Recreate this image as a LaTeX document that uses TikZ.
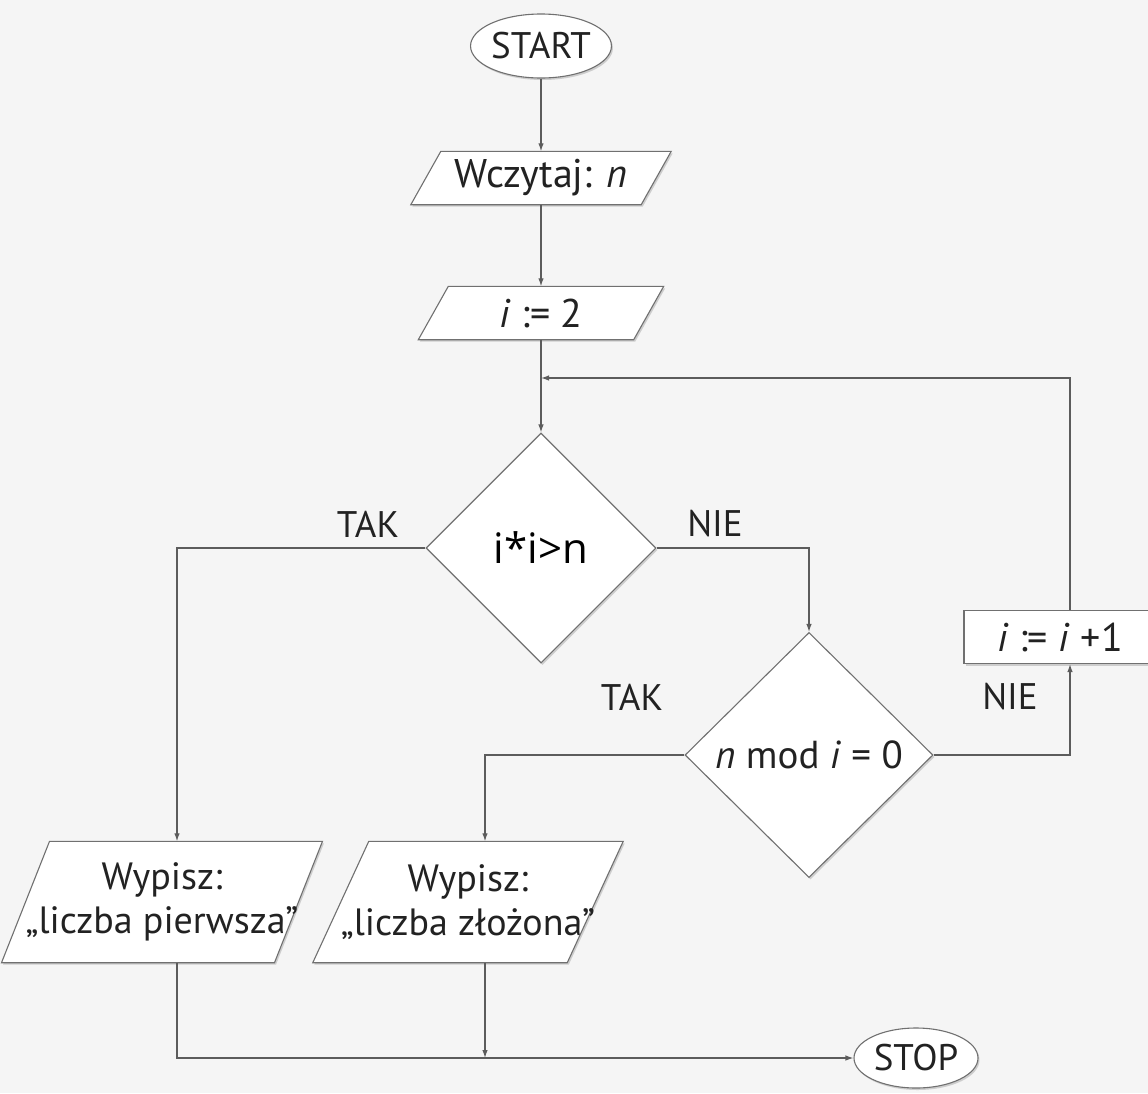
\documentclass[tikz,border=0pt]{standalone}
\usepackage{fontspec}
\setmainfont{PT Sans}
\newfontfamily\condfont{Open Sans}
\usetikzlibrary{shapes.geometric,arrows.meta,calc,shadows}
\pgfdeclarelayer{bg}
\pgfdeclarelayer{shp}
\pgfsetlayers{bg,shp,main}

\definecolor{linec}{HTML}{5C5C5C}
\definecolor{edgec}{HTML}{707070}
\definecolor{txt}{HTML}{222222}
\definecolor{paper}{HTML}{F5F5F5}

\tikzset{
  flow/.style={draw=linec, line width=1.2pt, -{Latex[length=8pt,width=5.5pt]}},
  soft/.style={drop shadow={shadow xshift=1.5pt, shadow yshift=-2pt, opacity=0.3, fill=black!55}},
  term/.style={ellipse, draw=edgec, line width=1.1pt, fill=white, soft, inner sep=0,
    text=txt, font=\fontsize{37}{42}\selectfont},
  dec/.style={diamond, draw=edgec, line width=1.1pt, fill=white, soft, inner sep=0, aspect=1,
    text=txt, font=\fontsize{39}{44}\selectfont},
  io/.style={rectangle, inner sep=0, text=txt, align=center, font=\fontsize{40}{44}\selectfont},
  procbox/.style={rectangle, draw=edgec, line width=1.1pt, fill=white, soft, inner sep=0,
    text=txt, font=\fontsize{40}{44}\selectfont},
  lbl/.style={inner sep=0, text=txt, font=\fontsize{37}{42}\selectfont},
}

% outline of an input/output parallelogram around node #1, with total slant #2
\newcommand\drawiobox[2]{%
  \begin{pgfonlayer}{shp}
    \fill[black!55, opacity=0.3]
      ($(#1.north west)+(#2/2+1.5,2)$) -- ($(#1.north east)+(#2/2+1.5,2)$) --
      ($(#1.south east)-(#2/2-1.5,-2)$) -- ($(#1.south west)-(#2/2-1.5,-2)$) -- cycle;
    \draw[draw=edgec, line width=1.1pt, fill=white]
      ($(#1.north west)+(#2/2,0)$) -- ($(#1.north east)+(#2/2,0)$) --
      ($(#1.south east)-(#2/2,0)$) -- ($(#1.south west)-(#2/2,0)$) -- cycle;
  \end{pgfonlayer}}

\begin{document}
\begin{tikzpicture}[x=1pt,y=-1pt]
  \begin{pgfonlayer}{bg}
    \fill[paper] (0,0) rectangle (1148,1093);
  \end{pgfonlayer}
  \useasboundingbox (0,0) rectangle (1148,1093);

  % main column
  \node[term, minimum width=126pt, minimum height=64pt] (start) at (541,46) {START};
  \node[io, minimum width=230pt, minimum height=53pt] (read) at (541,178) {Wczytaj: \textit{n}};
  \node[io, minimum width=215pt, minimum height=53pt] (init) at (541,313) {\textit{i} := 2};
  \node[dec, minimum width=230pt, minimum height=230pt, text=black,
        font=\condfont\fontsize{42}{48}\selectfont] (d1) at (541,548) {i*i>n};

  % second test and loop step
  \node[dec, minimum width=248pt, minimum height=245pt] (d2) at (809,755)
        {\textit{n} mod \textit{i} = 0};
  \node[procbox, minimum width=212pt, minimum height=53pt] (inc) at (1070,637)
        {\textit{i} := \textit{i} +1\hspace*{20pt}};

  % outputs
  \node[io, minimum width=252pt, minimum height=121pt, font=\fontsize{38}{44}\selectfont] (p1) at (162,902)
        {Wypisz:\\„liczba pierwsza"};
  \node[io, minimum width=251pt, minimum height=121pt, font=\fontsize{38}{44}\selectfont] (p2) at (468,902)
        {Wypisz:\\„liczba złożona"};

  \node[term, minimum width=124pt, minimum height=60pt] (stop) at (916,1058) {STOP};

  \drawiobox{read}{30}
  \drawiobox{init}{30}
  \drawiobox{p1}{48}
  \drawiobox{p2}{56}

  % branch labels
  \node[lbl] (t1) at (368,524) {TAK};
  \node[lbl] (n1) at (715,524) {NIE};
  \node[lbl] (t2) at (632,697) {TAK};
  \node[lbl] (n2) at (1010,697) {NIE};

  % helper points
  \coordinate (join) at (541,378);
  \coordinate (p1in) at ($(p1.north)+(15,0)$);
  \coordinate (p2in) at ($(p2.north)+(17,0)$);
  \coordinate (p1out) at ($(p1.south)+(15,0)$);
  \coordinate (p2out) at ($(p2.south)+(17,0)$);

  % connectors
  \draw[flow] (start.south) -- (read.north);
  \draw[flow] (read.south) -- (init.north);
  \draw[flow] (init.south) -- (d1.north);
  \draw[flow] (inc.north) |- (join);
  \draw[flow] (d1.east) -| (d2.north);
  \draw[flow] (d1.west) -| (p1in);
  \draw[flow] (d2.west) -| (p2in);
  \draw[flow] (d2.east) -| (inc.south);
  \draw[flow] (p1out) |- (stop.west);
  \draw[flow] (p2out) -- (p2out |- stop.west);
\end{tikzpicture}
\end{document}
